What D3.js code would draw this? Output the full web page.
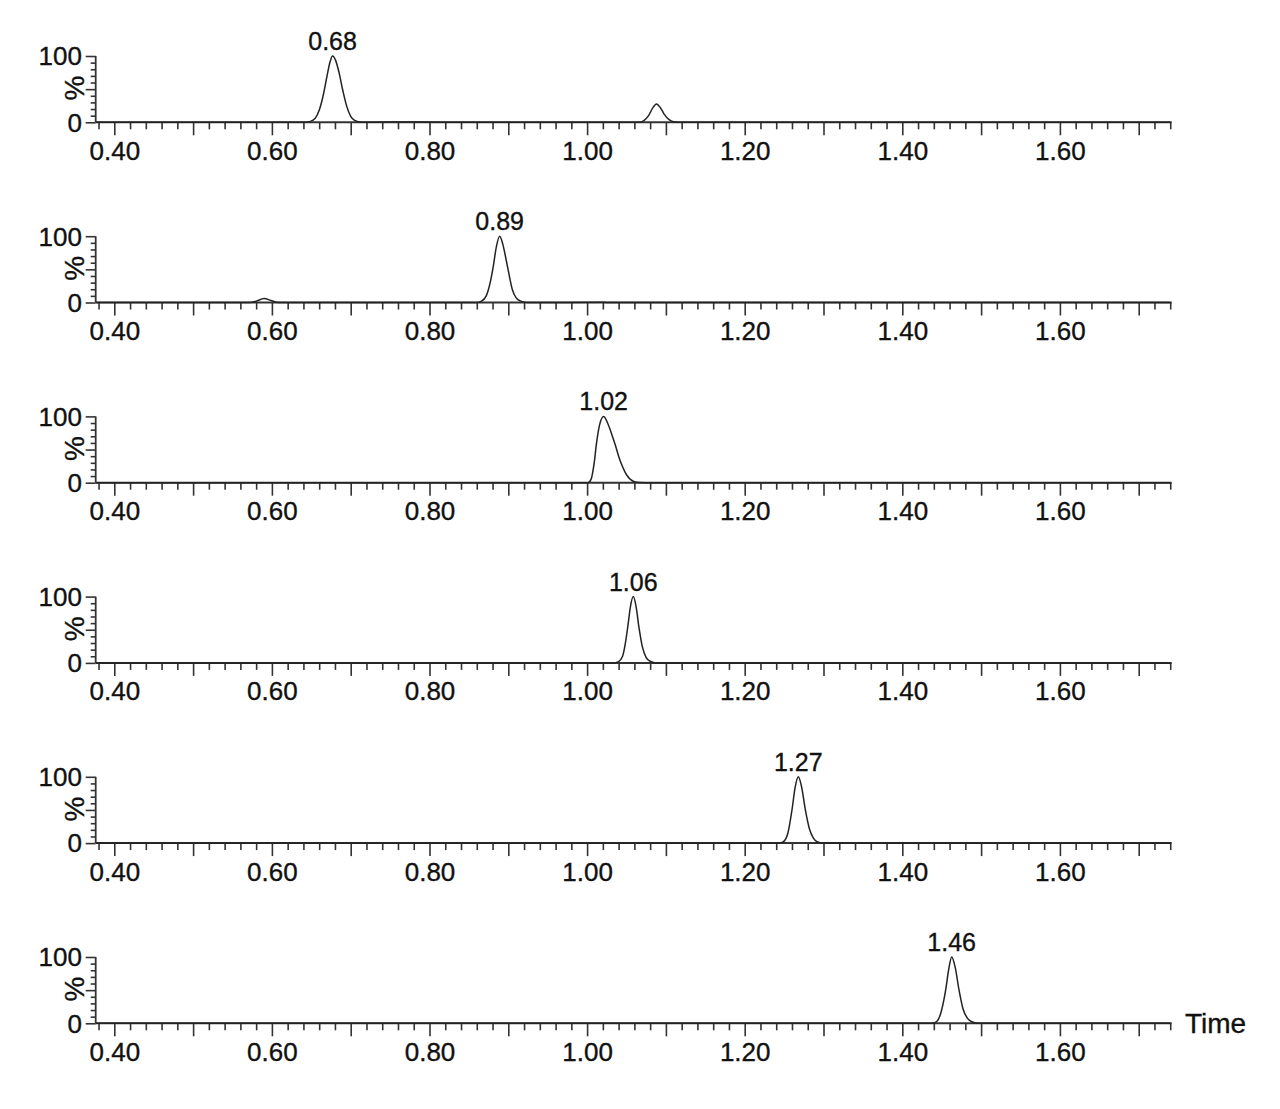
<!DOCTYPE html>
<html>
<head>
<meta charset="utf-8">
<script src="https://cdn.jsdelivr.net/npm/d3@7"></script>
<style>
  html, body { margin: 0; padding: 0; background: #fff; }
  svg { display: block; }
  text { font-family: "Liberation Sans", Arial, sans-serif; fill: #111; stroke: #111; stroke-width: 0.35px; }
</style>
</head>
<body>
<svg id="chart" width="1280" height="1109"></svg>
<script>
// ---- data (retention time in min, relative intensity in %) ----
const peakLabels = ["0.68", "0.89", "1.02", "1.06", "1.27", "1.46"];
const peakTimes  = [0.677, 0.889, 1.021, 1.0586, 1.268, 1.4627];

const trace1 = [[0.377,0],[0.640,0],[0.648,1],[0.655,6],[0.660,18],[0.665,40],[0.670,70],[0.674,92],[0.677,100],[0.681,93],[0.685,76],[0.690,48],[0.695,24],[0.700,9],[0.705,3],[0.712,0.6],[0.720,0.2],[0.780,0.4],[0.850,0],
  [1.066,0],[1.072,2.5],[1.078,10],[1.083,21],[1.088,27.6],[1.093,22],[1.098,12],[1.104,4],[1.111,0.6],[1.120,0],[1.740,0]];
const trace2 = [[0.377,0],[0.572,0],[0.580,2],[0.590,6],[0.600,2.5],[0.608,0],[0.860,0],[0.866,2],[0.872,10],[0.877,30],[0.881,55],[0.885,85],[0.889,100],[0.893,88],[0.897,66],[0.901,42],[0.905,20],[0.910,7],[0.916,2],[0.924,0],[1.020,0.3],[1.030,0],[1.740,0]];
const trace3 = [[0.377,0],[0.950,0],[1.001,0],[1.005,5],[1.009,30],[1.012,60],[1.016,88],[1.021,100],[1.026,90],[1.031,74],[1.036,56],[1.040,40],[1.045,24],[1.050,12],[1.055,5],[1.060,1.5],[1.066,0.3],[1.080,0],[1.740,0]];
const trace4 = [[0.377,0],[1.033,0],[1.040,2],[1.045,10],[1.049,33],[1.052,58],[1.055,85],[1.0586,100],[1.062,86],[1.066,52],[1.070,25],[1.075,8],[1.080,2.5],[1.088,0],[1.740,0]];
const trace5 = [[0.377,0],[1.245,0],[1.250,3],[1.255,16],[1.260,50],[1.264,84],[1.268,100],[1.272,86],[1.277,50],[1.282,22],[1.287,8],[1.292,2],[1.299,0],[1.740,0]];
const trace6 = [[0.377,0],[1.439,0],[1.444,3],[1.449,16],[1.455,50],[1.459,82],[1.4627,100],[1.467,85],[1.472,50],[1.477,22],[1.483,7],[1.489,2],[1.497,0],[1.740,0]];
const traces = [trace1, trace2, trace3, trace4, trace5, trace6];

const xLabelTicks = [0.40, 0.60, 0.80, 1.00, 1.20, 1.40, 1.60];
const yLabelTicks = [0, 100];
const xAxisTitle = "Time";
const yAxisTitle = "%";

// ---- layout ----
const svg = d3.select("#chart");
const left = 95.7, right = 1171.7;
const firstBase = 122.3, panelStep = 180.2, panelH = 66.3;
// 0.40 at x=114.3, 788 px per minute
const x = d3.scaleLinear()
  .domain([0.40 - (114.3 - left) / 788, 0.40 + (right - 114.3) / 788])
  .range([left, right]);

const majorTicks = d3.range(40, 171, 10).map(d => d / 100);
const minorTicks = d3.range(38, 175, 2).map(d => d / 100).filter(d => Math.round(d * 100) % 10 !== 0);

traces.forEach((tr, i) => {
  const base = firstBase + i * panelStep;
  const y = d3.scaleLinear().domain([0, 100]).range([base, base - panelH]);
  const g = svg.append("g");

  // y axis
  const yMinor = d3.axisLeft(y).tickValues(d3.range(0, 101, 10).filter(v => v % 50 !== 0)).tickSize(5).tickFormat("");
  const yMajor = d3.axisLeft(y).tickValues([0, 50, 100]).tickSize(10).tickFormat("");
  [yMinor, yMajor].forEach(ax => {
    const a = g.append("g").attr("transform", `translate(${left},0)`).call(ax);
    a.select(".domain").remove();
    a.selectAll("line").attr("stroke", "#333").attr("stroke-width", 1.6);
  });
  g.append("line").attr("x1", left).attr("x2", left).attr("y1", y(100)).attr("y2", y(0))
    .attr("stroke", "#333").attr("stroke-width", 1.8);

  yLabelTicks.forEach(v => {
    g.append("text").attr("x", 82).attr("y", y(v)).attr("dy", "0.36em")
      .attr("text-anchor", "end").attr("font-size", 26).text(String(v));
  });
  g.append("text").attr("transform", `translate(84,${y(50) - 1}) rotate(-90)`)
    .attr("text-anchor", "middle").attr("font-size", 28).text(yAxisTitle);

  // x axis
  const xMinor = d3.axisBottom(x).tickValues(minorTicks).tickSize(7).tickFormat("");
  const xMajor = d3.axisBottom(x).tickValues(majorTicks).tickSize(13).tickFormat("");
  [xMinor, xMajor].forEach(ax => {
    const a = g.append("g").attr("transform", `translate(0,${base})`).call(ax);
    a.select(".domain").remove();
    a.selectAll("line").attr("stroke", "#333").attr("stroke-width", 1.6);
  });
  const xLab = d3.axisBottom(x).tickValues(xLabelTicks).tickSize(0).tickFormat(d3.format(".2f"));
  const al = g.append("g").attr("transform", `translate(0,${base})`).call(xLab);
  al.select(".domain").remove();
  al.selectAll("text").attr("font-size", 26).attr("font-family", "Liberation Sans, Arial, sans-serif")
    .attr("fill", "#111").attr("y", 37.5).attr("dy", 0);

  g.append("line").attr("x1", left).attr("x2", right).attr("y1", base).attr("y2", base)
    .attr("stroke", "#333").attr("stroke-width", 2);

  // trace
  const line = d3.line().x(d => x(d[0])).y(d => y(d[1])).curve(d3.curveMonotoneX);
  g.append("path").datum(tr).attr("d", line).attr("fill", "none")
    .attr("stroke", "#222").attr("stroke-width", 1.5);

  // peak label
  g.append("text").attr("x", x(peakTimes[i])).attr("y", y(100) - 6)
    .attr("text-anchor", "middle").attr("font-size", 25).text(peakLabels[i]);

  if (i === traces.length - 1) {
    g.append("text").attr("x", 1185).attr("y", base + 10).attr("font-size", 28).text(xAxisTitle);
  }
});
</script>
</body>
</html>
